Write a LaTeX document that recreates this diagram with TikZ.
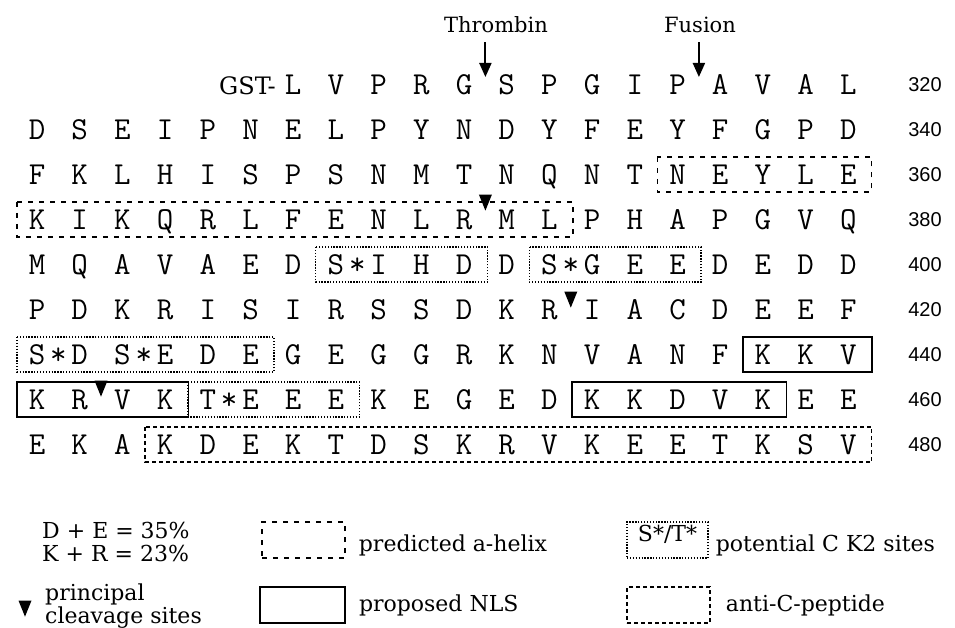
\documentclass[tikz,border=0pt]{standalone}
\usepackage{fontspec}
\setmainfont{DejaVu Serif}
\newfontfamily\numfont{Liberation Sans}
\usetikzlibrary{arrows.meta, calc, positioning, shapes.geometric}

% box round residues #3..#4 of row #2
\newcommand{\seqbox}[4]{%
  \draw[#1] ({37+42.7*(#3-0.47)},{67+45*#2}) rectangle ({37+42.7*(#4+0.55)},{102+45*#2});}

\begin{document}
\begin{tikzpicture}[
    x=1pt, y=-1pt,
    every node/.style={inner sep=0pt},
    residue/.style={font=\ttfamily\fontsize{32}{32}\selectfont, anchor=base},
    rownum/.style={font=\numfont\fontsize{20}{20}\selectfont},
    sitename/.style={font=\fontsize{21}{21}\selectfont},
    keytext/.style={font=\fontsize{22}{21}\selectfont},
    helix/.style={line width=1.4pt, dash pattern=on 5pt off 6pt},
    nls/.style={line width=1.6pt},
    ck2/.style={line width=1.3pt, dash pattern=on 1.3pt off 1.6pt},
    antic/.style={line width=1.4pt, dash pattern=on 4pt off 3pt},
    cleave/.style={isosceles triangle, isosceles triangle stretches,
        shape border rotate=270, fill=black, minimum width=13pt, minimum height=16pt},
    cutarrow/.style={-{Triangle[width=12pt,length=14pt]}, line width=2pt},
]
\useasboundingbox[fill=white] (0,0) rectangle (955,628);

% sequence, one row of twenty residues per line
\foreach \row/\first/\seq in {
    0/6/{L,V,P,R,G,S,P,G,I,P,A,V,A,L},
    1/0/{D,S,E,I,P,N,E,L,P,Y,N,D,Y,F,E,Y,F,G,P,D},
    2/0/{F,K,L,H,I,S,P,S,N,M,T,N,Q,N,T,N,E,Y,L,E},
    3/0/{K,I,K,Q,R,L,F,E,N,L,R,M,L,P,H,A,P,G,V,Q},
    4/0/{M,Q,A,V,A,E,D,S,I,H,D,D,S,G,E,E,D,E,D,D},
    5/0/{P,D,K,R,I,S,I,R,S,S,D,K,R,I,A,C,D,E,E,F},
    6/0/{S,D,S,E,D,E,G,E,G,G,R,K,N,V,A,N,F,K,K,V},
    7/0/{K,R,V,K,T,E,E,E,K,E,G,E,D,K,K,D,V,K,E,E},
    8/0/{E,K,A,K,D,E,K,T,D,S,K,R,V,K,E,E,T,K,S,V}}
  \foreach \ch [count=\c from \first] in \seq
    \node[residue] (r\row-\c) at ({37+42.7*\c},{94.5+45*\row}) {\ch};

% phosphorylated S/T marks
\foreach \row/\c in {4/7, 4/12, 6/0, 6/2, 7/4}
  \node[residue] (star\row-\c) at ({37+42.7*(\c+0.5)},{94.5+45*\row}) {*};

% residue numbers
\foreach \row/\num in {0/320, 1/340, 2/360, 3/380, 4/400, 5/420, 6/440, 7/460, 8/480}
  \node[rownum] (num\num) at (925,{85+45*\row}) {\num};

\node[font=\fontsize{24}{24}\selectfont, anchor=base east] (gst) at (276,94.5) {GST-};

% thrombin and fusion sites
\node[sitename] (thrombin) at (496,25) {Thrombin};
\node[sitename] (fusion) at (700,25) {Fusion};
\coordinate (thrombinsite) at (485.4,77);
\coordinate (fusionsite) at (698.9,77);
\draw[cutarrow, shorten <=9pt] (thrombin.south -| thrombinsite) -- (thrombinsite);
\draw[cutarrow, shorten <=9pt] (fusion.south -| fusionsite) -- (fusionsite);

% principal cleavage sites
\node[cleave] (cut380) at (485.4,199) {};
\node[cleave] (cut420) at (570.8,296) {};
\node[cleave] (cut460) at (101,385) {};

% predicted helix
\seqbox{helix}{2}{15}{19}
\seqbox{helix}{3}{0}{12}
% CK2 sites
\seqbox{ck2}{4}{7}{10}
\seqbox{ck2}{4}{12}{15}
\seqbox{ck2}{6}{0}{5}
\seqbox{ck2}{7}{4}{7}
% NLS
\seqbox{nls}{6}{17}{19}
\seqbox{nls}{7}{0}{3}
\seqbox{nls}{7}{13}{17}
% anti-C-peptide
\seqbox{antic}{8}{3}{19}

% key
\node[keytext, anchor=west] (decontent) at (42,530) {D + E = 35\%};
\node[keytext, anchor=west] (krcontent) at (42,553) {K + R = 23\%};
\node[cleave] (keycut) at (25,605) {};
\node[keytext, anchor=west, align=left] (keycuttext) at (45,606) {principal\\cleavage sites};

\node[helix, draw, minimum width=83pt, minimum height=36pt] (keyhelix) at (303.5,540) {};
\node[keytext, right=13pt of keyhelix, yshift=-5pt] (keyhelixtext) {predicted a-helix};
\node[nls, draw, minimum width=85pt, minimum height=36pt] (keynls) at (302.5,605) {};
\node[keytext, right=13pt of keynls] (keynlstext) {proposed NLS};
\node[ck2, draw, minimum width=81pt, minimum height=36pt] (keyck2) at (667.5,540) {};
\node[keytext] (keyck2mark) at ([yshift=6pt]keyck2.center) {S*/T*};
\node[keytext, right=7pt of keyck2, yshift=-5pt] (keyck2text) {potential C K2 sites};
\node[antic, draw, minimum width=83pt, minimum height=36pt] (keyantic) at (668.5,605) {};
\node[keytext, right=15pt of keyantic] (keyantictext) {anti-C-peptide};
\end{tikzpicture}
\end{document}
